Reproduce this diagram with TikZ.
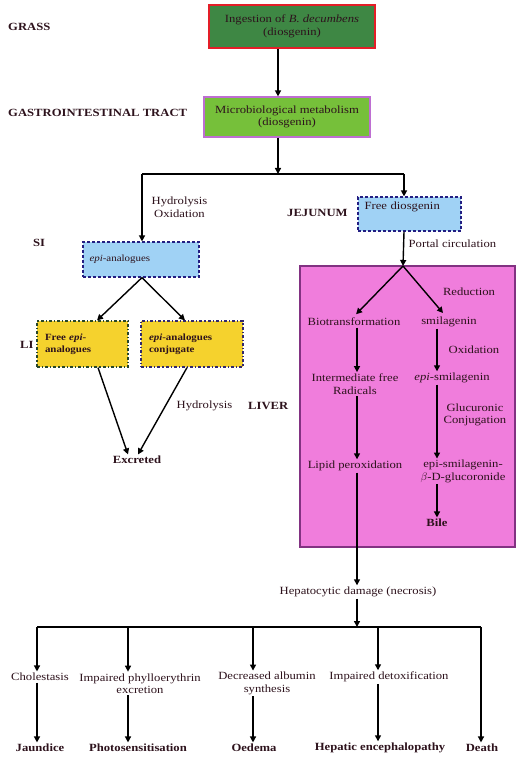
\documentclass[tikz,border=0pt]{standalone}
\usepackage{fontspec}
\setmainfont[FakeStretch=1.15]{Liberation Serif}
\usepackage{tikz}
\usetikzlibrary{arrows.meta,calc,positioning}

\definecolor{ink}{RGB}{45,18,28}
\definecolor{grassgreen}{RGB}{62,135,68}
\definecolor{grassred}{RGB}{228,30,40}
\definecolor{microgreen}{RGB}{118,192,58}
\definecolor{microedge}{RGB}{190,110,210}
\definecolor{lightblue}{RGB}{160,210,245}
\definecolor{blueedge}{RGB}{35,30,130}
\definecolor{yellowfill}{RGB}{245,210,45}
\definecolor{yedgegreen}{RGB}{40,70,40}
\definecolor{yedgeblue}{RGB}{50,40,110}
\definecolor{liverpink}{RGB}{240,125,220}
\definecolor{liveredge}{RGB}{130,50,130}

\newcommand\diagfont{\fontsize{11}{12.5}\selectfont}
\newcommand\smallboxfont{\fontsize{9.5}{11.5}\selectfont}

\tikzset{
  arr/.style={-{Triangle[length=6pt,width=6pt]}, line width=1.4pt, draw=black},
  ln/.style={line width=1.4pt, draw=black},
  lbl/.style={font=\diagfont\bfseries, text=ink, anchor=west, inner sep=0pt},
  txt/.style={font=\diagfont, text=ink, align=center, inner sep=1.5pt},
  endpt/.style={font=\diagfont\bfseries, text=ink, inner sep=1.5pt},
  ingestbox/.style={draw=grassred, fill=grassgreen, line width=1.6pt, font=\diagfont, text=ink, align=center},
  microbox/.style={draw=microedge, fill=microgreen, line width=1.2pt, font=\diagfont, text=ink, align=center},
  bluebox/.style={draw=blueedge, fill=lightblue, line width=1.2pt, densely dashed, text=ink, align=left},
  yellowbox/.style={fill=yellowfill, line width=1.2pt, dash dot, font=\smallboxfont\bfseries, text=ink, align=left},
  liverbox/.style={draw=liveredge, fill=liverpink, line width=1.2pt}
}

\begin{document}
\begin{tikzpicture}[x=1pt,y=-1pt]
  \useasboundingbox (0,0) rectangle (517,759);

  % region labels
  \node[lbl] (grass) at (8,27) {GRASS};
  \node[lbl] (git) at (8,113) {GASTROINTESTINAL TRACT};
  \node[lbl] (si) at (33,243) {SI};
  \node[lbl] (li) at (20,345) {LI};
  \node[lbl] (jejunum) at (287,213) {JEJUNUM};
  \node[lbl] (liver) at (248,406) {LIVER};

  % boxes
  \node[liverbox, minimum width=215, minimum height=281] (liverbox) at (407.5,406.5) {};
  \node[ingestbox, minimum width=166, minimum height=43] (ingest) at (292,26.5) {Ingestion of \textit{B. decumbens}\\(diosgenin)};
  \node[microbox, minimum width=166, minimum height=40] (micro) at (287,117) {Microbiological metabolism\\(diosgenin)};
  \node[bluebox, font=\diagfont, minimum width=103, minimum height=34, text width=90, text depth=16pt] (free) at (409.5,214) {Free diosgenin};
  \node[bluebox, font=\smallboxfont, minimum width=116, minimum height=35, text width=103] (epi) at (141,259.5) {\textit{epi}-analogues};
  \node[yellowbox, draw=yedgegreen, minimum width=91, minimum height=46, text width=75] (freeepi) at (82.5,344) {Free \textit{epi}-\\analogues};
  \node[yellowbox, draw=yedgeblue, minimum width=102, minimum height=46, text width=86] (conj) at (192,344) {\textit{epi}-analogues\\conjugate};

  % texts
  \node[txt, anchor=west] (hydox) at (150,207) {Hydrolysis\\Oxidation};
  \node[txt, anchor=west] (portal) at (407,244) {Portal circulation};
  \node[txt, anchor=west] (hydro) at (175,406) {Hydrolysis};
  \node[endpt] (excr) at (137,460) {Excreted};

  \node[txt] (bio) at (354,322) {Biotransformation};
  \node[txt] (smila) at (449,322) {smilagenin};
  \node[txt] (reduc) at (469,292) {Reduction};
  \node[txt] (oxid) at (474,350) {Oxidation};
  \node[txt] (radic) at (355,384) {Intermediate free\\Radicals};
  \node[txt] (epism) at (452,378) {\textit{epi}-smilagenin};
  \node[txt, anchor=west] (glucon) at (442,415) {Glucuronic\\Conjugation};
  \node[txt] (lipid) at (355,466) {Lipid peroxidation};
  \node[txt] (glucor) at (463,471.5) {epi-smilagenin-\\$\beta$-D-glucoronide};
  \node[endpt] (bile) at (437,523) {Bile};

  \node[txt] (hepat) at (358,592) {Hepatocytic damage (necrosis)};
  \node[txt] (chol) at (40,677) {Cholestasis};
  \node[txt] (phyllo) at (140,683.5) {Impaired phylloerythrin\\excretion};
  \node[txt] (albu) at (267,683.5) {Decreased albumin\\synthesis};
  \node[txt] (detox) at (389,677) {Impaired detoxification};

  \node[endpt] (jaun) at (40,748) {Jaundice};
  \node[endpt] (photo) at (138,748) {Photosensitisation};
  \node[endpt] (oedema) at (254,748) {Oedema};
  \node[endpt] (hepenc) at (380,748) {Hepatic encephalopathy};
  \node[endpt] (death) at (482,748) {Death};

  % branch points
  \coordinate (split) at (278,174);
  \coordinate (splitL) at (142,174);
  \coordinate (splitR) at (404,174);
  \coordinate (fork) at (403,266);
  \coordinate (lcol) at (357,0);
  \coordinate (rcol) at (437,0);
  \coordinate (hsplit) at (357,627);
  \coordinate (b1) at (37,627);
  \coordinate (b2) at (128,627);
  \coordinate (b3) at (253,627);
  \coordinate (b4) at (378,627);
  \coordinate (b5) at (481,627);

  % connectors
  \draw[arr] (ingest.south -| split) -- (micro.north -| split);
  \draw[arr] (micro.south -| split) -- (split);
  \draw[ln] (splitL) -- (splitR);
  \draw[arr] (splitL) -- (epi.north -| splitL);
  \draw[arr] (splitR) -- (free.north -| splitR);
  \draw[arr] (free.south -| splitR) -- (fork);

  \draw[arr] (epi.south -| splitL) -- ($(freeepi.north)+(14.5,0)$);
  \draw[arr] (epi.south -| splitL) -- ($(conj.north)+(-7,0)$);
  \draw[arr] ($(freeepi.south)+(15.5,0)$) -- ($(excr.north)+(-9,0)$);
  \draw[arr] ($(conj.south)+(-5,0)$) -- ($(excr.north)+(1,0)$);

  \draw[arr, shorten >=3pt] (fork) -- (bio.north);
  \draw[arr, shorten >=3pt] (fork) -- ($(smila.north)+(-4,0)$);
  \draw[arr] (bio.south -| lcol) -- (radic.north -| lcol);
  \draw[arr] (smila.south -| rcol) -- (epism.north -| rcol);
  \draw[arr] (radic.south -| lcol) -- (lipid.north -| lcol);
  \draw[arr] (epism.south -| rcol) -- (glucor.north -| rcol);
  \draw[arr] (glucor.south -| rcol) -- (bile.north -| rcol);

  \draw[arr] (lipid.south -| lcol) -- (hepat.north -| lcol);
  \draw[arr] (hepat.south -| hsplit) -- (hsplit);
  \draw[ln] (b1) -- (b5);
  \draw[arr] (b1) -- (chol.north -| b1);
  \draw[arr] (b2) -- (phyllo.north -| b2);
  \draw[arr] (b3) -- (albu.north -| b3);
  \draw[arr] (b4) -- (detox.north -| b4);
  \draw[arr] (b5) -- (death.north -| b5);

  \draw[arr] (chol.south -| b1) -- (jaun.north -| b1);
  \draw[arr] (phyllo.south -| b2) -- (photo.north -| b2);
  \draw[arr] (albu.south -| b3) -- (oedema.north -| b3);
  \draw[arr] (detox.south -| b4) -- (hepenc.north -| b4);
\end{tikzpicture}
\end{document}
